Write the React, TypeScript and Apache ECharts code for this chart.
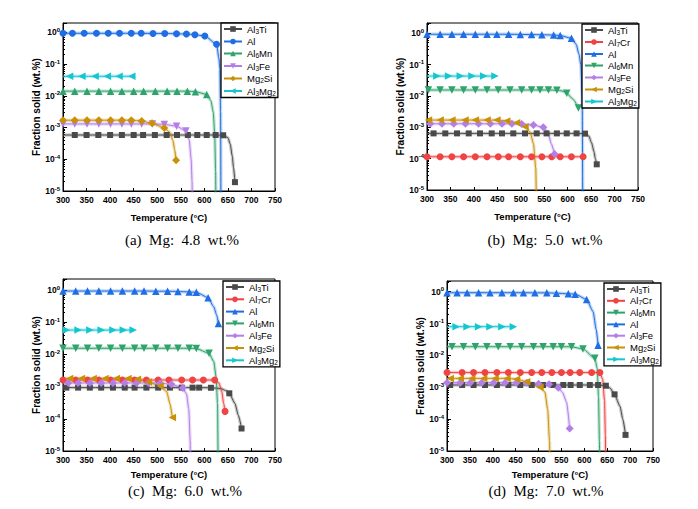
import React, { useEffect, useRef } from "react";
import * as echarts from "echarts";

type Pt = [number, number];

// ---------- (a) Mg: 4.8 wt.% ----------
const aAl3TiMarks: Pt[] = [[325,5.8e-4],[350,5.8e-4],[375,5.8e-4],[400,5.8e-4],[425,5.8e-4],[450,5.8e-4],[470,5.8e-4],[495,5.8e-4],[520,5.8e-4],[542,5.8e-4],[565,5.8e-4],[585,5.8e-4],[605,5.8e-4],[624,5.8e-4],[640,5.7e-4],[665,1.9e-5]];
const aAl3TiCurve: Pt[] = [[300,5.8e-4],[650,4.8e-4],[655,3.0e-4],[659,1.3e-4],[662,5.5e-5]];
const aAlMarks: Pt[] = [[300,0.93],[320,0.93],[345,0.93],[371,0.93],[396,0.93],[420,0.93],[445,0.93],[466,0.93],[491,0.92],[516,0.92],[541,0.9],[562,0.88],[580,0.84],[601,0.76],[626,0.42]];
const aAlCurve: Pt[] = [[631,0.15],[633,0.07],[634.5,0.003],[635.5,1e-7]];
const aAl6MnMarks: Pt[] = [[300,0.014],[325,0.014],[351,0.014],[376,0.014],[401,0.014],[425,0.014],[450,0.014],[471,0.014],[496,0.014],[521,0.014],[542,0.014],[564,0.014],[581,0.0135],[605,0.011]];
const aAl6MnCurve: Pt[] = [[614,0.007],[619,0.003],[622,0.0006],[624,0.00004],[625,1e-7]];
const aAl3FeMarks: Pt[] = [[300,0.0013],[325,0.0013],[351,0.0013],[376,0.0013],[401,0.0013],[425,0.0013],[445,0.0013],[467,0.0013],[490,0.0013],[515,0.00125],[541,0.0011],[561,0.00078]];
const aAl3FeCurve: Pt[] = [[568,0.0004],[572,0.0001],[574,0.00002],[575,1e-7]];
const aMg2SiMarks: Pt[] = [[300,0.0017],[325,0.0017],[351,0.0017],[376,0.0017],[401,0.0017],[425,0.0017],[445,0.0017],[467,0.0016],[489,0.00135],[515,0.00097],[540,9.3e-5]];
const aMg2SiCurve: Pt[] = [[527,0.0007],[533,0.0004],[537,0.0002]];
const aAl3Mg2Marks: Pt[] = [[314,0.041],[340,0.041],[368,0.041],[394,0.041],[419,0.041],[446,0.041]];
const aAl3Mg2Curve: Pt[] = [[300,0.041]];

// ---------- (b) Mg: 5.0 wt.% ----------
const bAl3TiMarks: Pt[] = [[314,6.4e-4],[339,6.4e-4],[364,6.4e-4],[389,6.4e-4],[413,6.4e-4],[438,6.4e-4],[460,6.4e-4],[484,6.4e-4],[509,6.4e-4],[534,6.4e-4],[555,6.4e-4],[577,6.4e-4],[598,6.4e-4],[619,6.4e-4],[637,6.3e-4],[662,6.6e-5]];
const bAl3TiCurve: Pt[] = [[300,6.4e-4],[645,5.3e-4],[651,3.2e-4],[656,1.7e-4],[659,1.0e-4]];
const bAl7CrMarks: Pt[] = [[300,1.15e-4],[328,1.15e-4],[353,1.15e-4],[378,1.15e-4],[403,1.15e-4],[428,1.15e-4],[452,1.15e-4],[474,1.15e-4],[499,1.15e-4],[523,1.15e-4],[545,1.15e-4],[566,1.15e-4],[584,1.15e-4],[608,1.15e-4],[633,1.15e-4]];
const bAl7CrCurve: Pt[] = [];
const bAlMarks: Pt[] = [[300,0.93],[328,0.93],[353,0.93],[378,0.93],[403,0.93],[428,0.93],[449,0.93],[474,0.93],[499,0.92],[523,0.91],[545,0.9],[570,0.88],[584,0.85],[608,0.69]];
const bAlCurve: Pt[] = [[618,0.45],[624,0.22],[628,0.1],[631,0.01],[632.5,1e-7]];
const bAl6MnMarks: Pt[] = [[303,0.0155],[328,0.0155],[353,0.0155],[378,0.0155],[403,0.0155],[428,0.0155],[452,0.0155],[477,0.0155],[502,0.0155],[523,0.0155],[541,0.0155],[559,0.0155],[577,0.0153],[598,0.0122],[623,0.0041]];
const bAl6MnCurve: Pt[] = [[300,0.0155],[588,0.0145],[611,0.008]];
const bAl3FeMarks: Pt[] = [[307,0.0013],[332,0.0013],[357,0.0013],[382,0.0013],[410,0.0013],[435,0.0013],[460,0.0013],[481,0.0013],[502,0.00128],[527,0.00118],[548,0.001],[572,1.4e-4]];
const bAl3FeCurve: Pt[] = [[300,0.0013],[558,0.0007],[565,0.0003]];
const bMg2SiMarks: Pt[] = [[303,0.0017],[328,0.0017],[353,0.0017],[381,0.0017],[403,0.0017],[428,0.0017],[449,0.0017],[470,0.0016],[491,0.0014],[509,0.00105]];
const bMg2SiCurve: Pt[] = [[300,0.0017],[520,0.0007],[527,0.0003],[532,0.00005],[534.5,1e-7]];
const bAl3Mg2Marks: Pt[] = [[321,0.043],[346,0.043],[371,0.043],[396,0.043],[421,0.043],[445,0.043]];
const bAl3Mg2Curve: Pt[] = [[300,0.043]];

// ---------- (c) Mg: 6.0 wt.% ----------
const cAl3TiMarks: Pt[] = [[307,9.3e-4],[332,9.3e-4],[357,9.3e-4],[381,9.3e-4],[406,9.3e-4],[431,9.3e-4],[452,9.3e-4],[477,9.3e-4],[502,9.3e-4],[527,9.3e-4],[552,9.3e-4],[575,9.3e-4],[589,9.3e-4],[614,9.2e-4],[653,6.2e-4],[679,5e-5]];
const cAl3TiCurve: Pt[] = [[300,9.3e-4],[635,8.7e-4],[645,7.6e-4],[665,3.0e-4],[672,1.3e-4]];
const cAl7CrMarks: Pt[] = [[300,0.0016],[327,0.0016],[352,0.0016],[376,0.0016],[401,0.0016],[426,0.0016],[452,0.0016],[477,0.0016],[502,0.0016],[525,0.0016],[552,0.0016],[575,0.0016],[598,0.0016],[622,0.0016],[644,1.7e-4]];
const cAl7CrCurve: Pt[] = [[631,0.0013],[637,0.0007],[641,0.0003]];
const cAlMarks: Pt[] = [[300,0.93],[327,0.93],[352,0.93],[376,0.93],[401,0.93],[426,0.93],[452,0.93],[472,0.93],[497,0.92],[522,0.92],[544,0.9],[568,0.87],[583,0.85],[608,0.58],[630,0.092]];
const cAlCurve: Pt[] = [[620,0.3],[626,0.17]];
const cAl6MnMarks: Pt[] = [[300,0.0155],[327,0.0155],[352,0.0155],[376,0.0155],[401,0.0155],[426,0.0155],[452,0.0155],[472,0.0155],[497,0.0155],[522,0.0155],[544,0.0155],[568,0.0155],[583,0.0152],[610,0.0108]];
const cAl6MnCurve: Pt[] = [[620,0.006],[625,0.002],[628,0.0003],[630,1e-7]];
const cAl3FeMarks: Pt[] = [[311,0.0013],[332,0.0013],[357,0.0013],[381,0.0013],[406,0.0013],[431,0.0013],[456,0.0013],[481,0.0013],[506,0.00128],[530,0.00118],[554,0.0009]];
const cAl3FeCurve: Pt[] = [[300,0.0013],[562,0.0006],[567,0.0002],[570,0.00002],[571,1e-7]];
const cMg2SiMarks: Pt[] = [[314,0.0018],[339,0.0018],[364,0.0018],[389,0.0018],[413,0.0018],[438,0.0018],[458,0.0017],[481,0.0014],[506,0.00104],[532,1.1e-4]];
const cMg2SiCurve: Pt[] = [[300,0.0018],[520,0.0007],[527,0.0003]];
const cAl3Mg2Marks: Pt[] = [[307,0.057],[332,0.057],[357,0.057],[381,0.057],[406,0.057],[428,0.057],[449,0.057]];
const cAl3Mg2Curve: Pt[] = [[300,0.057]];

// ---------- (d) Mg: 7.0 wt.% ----------
const dAl3TiMarks: Pt[] = [[307,0.00118],[333,0.00118],[358,0.00118],[383,0.00118],[409,0.00118],[434,0.00118],[460,0.00118],[485,0.00118],[510,0.00118],[532,0.00118],[554,0.00118],[570,0.00118],[590,0.00118],[612,0.00118],[630,0.00118],[647,0.00112],[666,6e-4],[690,3.2e-5]];
const dAl3TiCurve: Pt[] = [[300,0.00118],[656,0.00095],[678,2.5e-4],[684,1e-4]];
const dAl7CrMarks: Pt[] = [[300,0.0029],[333,0.0029],[358,0.0029],[383,0.0029],[409,0.0029],[434,0.0029],[460,0.0029],[485,0.0029],[507,0.0029],[529,0.0029],[550,0.0029],[569,0.0029],[590,0.0029],[616,0.0029],[634,0.0029]];
const dAl7CrCurve: Pt[] = [[640,0.0018],[644,0.0004],[646,0.00003],[647,1e-7]];
const dAl6MnMarks: Pt[] = [[311,0.0188],[336,0.0188],[362,0.0188],[387,0.0188],[412,0.0188],[438,0.0188],[463,0.0188],[489,0.0188],[510,0.0188],[532,0.0188],[550,0.0188],[572,0.0186],[597,0.016],[623,0.0081]];
const dAl6MnCurve: Pt[] = [[300,0.0188],[628,0.004],[631,0.0005],[633,0.00002],[634,1e-7]];
const dAlMarks: Pt[] = [[300,0.93],[322,0.93],[344,0.93],[369,0.93],[394,0.93],[420,0.93],[445,0.93],[467,0.93],[492,0.92],[518,0.92],[539,0.9],[565,0.86],[580,0.84],[605,0.57],[630,0.021]];
const dAlCurve: Pt[] = [[619,0.24],[626,0.065]];
const dAl3FeMarks: Pt[] = [[300,0.0014],[329,0.0014],[351,0.0014],[376,0.0014],[402,0.0014],[427,0.0014],[452,0.0014],[474,0.0014],[500,0.0013],[523,0.00124],[543,0.00097],[568,5.1e-5]];
const dAl3FeCurve: Pt[] = [[552,0.0007],[561,0.00035]];
const dMg2SiMarks: Pt[] = [[307,0.0019],[329,0.0019],[354,0.0019],[380,0.0019],[405,0.0019],[431,0.0019],[452,0.0018],[474,0.0015],[503,0.001]];
const dMg2SiCurve: Pt[] = [[300,0.0019],[514,0.0007],[520,0.0002],[524,0.00002],[526,1e-7]];
const dAl3Mg2Marks: Pt[] = [[320,0.08],[344,0.08],[369,0.08],[394,0.08],[420,0.08],[445,0.08]];
const dAl3Mg2Curve: Pt[] = [[300,0.08]];

const xTicks = { min: 300, max: 750, interval: 50 };
const captions = ["(a)  Mg:  4.8  wt.%", "(b)  Mg:  5.0  wt.%", "(c)  Mg:  6.0  wt.%", "(d)  Mg:  7.0  wt.%"];
const xName = "Temperature (°C)";
const yName = "Fraction solid (wt.%)";

const FONT = "'Liberation Sans', Arial, sans-serif";

const COLORS: Record<string, string> = {
  Al3Ti: "#4a4a4a",
  Al7Cr: "#f04343",
  Al: "#1f6ee3",
  Al6Mn: "#2fa36b",
  Al3Fe: "#b47ee8",
  Mg2Si: "#c99108",
  Al3Mg2: "#16c6cf",
};

const LABELS: Record<string, string> = {
  Al3Ti: "{n|Al}{s|3}{n|Ti}",
  Al7Cr: "{n|Al}{s|7}{n|Cr}",
  Al: "{n|Al}",
  Al6Mn: "{n|Al}{s|6}{n|Mn}",
  Al3Fe: "{n|Al}{s|3}{n|Fe}",
  Mg2Si: "{n|Mg}{s|2}{n|Si}",
  Al3Mg2: "{n|Al}{s|3}{n|Mg}{s|2}",
};

const SYM: Record<string, { s: string; r: number; z: number }> = {
  sq: { s: "rect", r: 0, z: 6 },
  ci: { s: "circle", r: 0, z: 7 },
  up: { s: "triangle", r: 0, z: 7.5 },
  dn: { s: "triangle", r: 180, z: 7.5 },
  di: { s: "diamond", r: 0, z: 8 },
  lt: { s: "triangle", r: 90, z: 7.5 },
  rt: { s: "triangle", r: -90, z: 7.5 },
};

type Phase = { phase: string; marks: Pt[]; curve: Pt[]; sym: string };
type Panel = {
  id: string;
  l: number; t: number; w: number; h: number;
  ymax: number;
  legL: number; legT: number; legGap: number;
  capX: number; capY: number;
  xGap: number; yGap: number;
  phases: Phase[];
};

const PANELS: Panel[] = [
  {
    id: "a", l: 63, t: 23, w: 212, h: 168, ymax: 1.96, legL: 221, legT: 23, legGap: 2.0, capX: 182, capY: 240, xGap: 21, yGap: 22,
    phases: [
      { phase: "Al3Ti", marks: aAl3TiMarks, curve: aAl3TiCurve, sym: "sq" },
      { phase: "Al", marks: aAlMarks, curve: aAlCurve, sym: "ci" },
      { phase: "Al6Mn", marks: aAl6MnMarks, curve: aAl6MnCurve, sym: "up" },
      { phase: "Al3Fe", marks: aAl3FeMarks, curve: aAl3FeCurve, sym: "dn" },
      { phase: "Mg2Si", marks: aMg2SiMarks, curve: aMg2SiCurve, sym: "di" },
      { phase: "Al3Mg2", marks: aAl3Mg2Marks, curve: aAl3Mg2Curve, sym: "lt" },
    ],
  },
  {
    id: "b", l: 427, t: 23, w: 211, h: 167, ymax: 2.13, legL: 582, legT: 24, legGap: 1.5, capX: 545, capY: 240, xGap: 21, yGap: 22,
    phases: [
      { phase: "Al3Ti", marks: bAl3TiMarks, curve: bAl3TiCurve, sym: "sq" },
      { phase: "Al7Cr", marks: bAl7CrMarks, curve: bAl7CrCurve, sym: "ci" },
      { phase: "Al", marks: bAlMarks, curve: bAlCurve, sym: "up" },
      { phase: "Al6Mn", marks: bAl6MnMarks, curve: bAl6MnCurve, sym: "dn" },
      { phase: "Al3Fe", marks: bAl3FeMarks, curve: bAl3FeCurve, sym: "di" },
      { phase: "Mg2Si", marks: bMg2SiMarks, curve: bMg2SiCurve, sym: "lt" },
      { phase: "Al3Mg2", marks: bAl3Mg2Marks, curve: bAl3Mg2Curve, sym: "rt" },
    ],
  },
  {
    id: "c", l: 63, t: 279, w: 212, h: 172, ymax: 2.2, legL: 223, legT: 281, legGap: 1.8, capX: 185, capY: 491, xGap: 18, yGap: 19,
    phases: [
      { phase: "Al3Ti", marks: cAl3TiMarks, curve: cAl3TiCurve, sym: "sq" },
      { phase: "Al7Cr", marks: cAl7CrMarks, curve: cAl7CrCurve, sym: "ci" },
      { phase: "Al", marks: cAlMarks, curve: cAlCurve, sym: "up" },
      { phase: "Al6Mn", marks: cAl6MnMarks, curve: cAl6MnCurve, sym: "dn" },
      { phase: "Al3Fe", marks: cAl3FeMarks, curve: cAl3FeCurve, sym: "di" },
      { phase: "Mg2Si", marks: cMg2SiMarks, curve: cMg2SiCurve, sym: "lt" },
      { phase: "Al3Mg2", marks: cAl3Mg2Marks, curve: cAl3Mg2Curve, sym: "rt" },
    ],
  },
  {
    id: "d", l: 447, t: 281, w: 206, h: 170, ymax: 2.17, legL: 604, legT: 283, legGap: 1.3, capX: 546, capY: 491, xGap: 18, yGap: 20,
    phases: [
      { phase: "Al3Ti", marks: dAl3TiMarks, curve: dAl3TiCurve, sym: "sq" },
      { phase: "Al7Cr", marks: dAl7CrMarks, curve: dAl7CrCurve, sym: "ci" },
      { phase: "Al6Mn", marks: dAl6MnMarks, curve: dAl6MnCurve, sym: "dn" },
      { phase: "Al", marks: dAlMarks, curve: dAlCurve, sym: "up" },
      { phase: "Al3Fe", marks: dAl3FeMarks, curve: dAl3FeCurve, sym: "di" },
      { phase: "Mg2Si", marks: dMg2SiMarks, curve: dMg2SiCurve, sym: "lt" },
      { phase: "Al3Mg2", marks: dAl3Mg2Marks, curve: dAl3Mg2Curve, sym: "rt" },
    ],
  },
];

function buildOption() {
  const grid = PANELS.map((p) => ({
    left: p.l, top: p.t, width: p.w, height: p.h,
    show: true, borderColor: "#000", borderWidth: 1, backgroundColor: "transparent", containLabel: false,
  }));
  const xAxis = PANELS.map((p, i) => ({
    type: "value", gridIndex: i, min: xTicks.min, max: xTicks.max, interval: xTicks.interval,
    name: xName, nameLocation: "middle", nameGap: p.xGap,
    nameTextStyle: { fontFamily: FONT, fontWeight: "bold", fontSize: 9.5, color: "#000" },
    axisLine: { show: true, onZero: false, lineStyle: { color: "#000", width: 1 } },
    axisTick: { show: true, inside: true, length: 3, lineStyle: { color: "#000" } },
    axisLabel: { fontFamily: FONT, fontWeight: "bold", fontSize: 8.5, color: "#000", margin: 4 },
    splitLine: { show: false },
  }));
  const yAxis = PANELS.map((p, i) => ({
    type: "log", logBase: 10, gridIndex: i, min: 1e-5, max: p.ymax,
    name: yName, nameLocation: "middle", nameGap: p.yGap,
    nameTextStyle: { fontFamily: FONT, fontWeight: "bold", fontSize: 10, color: "#000" },
    axisLine: { show: true, onZero: false, lineStyle: { color: "#000", width: 1 } },
    axisTick: { show: true, inside: true, length: 4, lineStyle: { color: "#000" } },
    minorTick: { show: true, splitNumber: 9, length: 2, lineStyle: { color: "#000" } },
    axisLabel: {
      margin: 3,
      formatter: (v: number) => {
        const e = Math.log10(v);
        const r = Math.round(e);
        if (Math.abs(e - r) > 1e-6) return "";
        return `{n|10}{s|${r}}`;
      },
      rich: {
        n: { fontFamily: FONT, fontWeight: "bold", fontSize: 8.5, lineHeight: 11, color: "#000" },
        s: { fontFamily: FONT, fontWeight: "bold", fontSize: 6, lineHeight: 6, verticalAlign: "top", color: "#000" },
      },
    },
    splitLine: { show: false },
  }));

  const series: any[] = [];
  PANELS.forEach((p, i) => {
    p.phases.forEach((ph) => {
      const pts = [
        ...ph.marks.map((v) => ({ value: v })),
        ...ph.curve.map((v) => ({ value: v, symbol: "none" })),
      ].sort((u, v) => u.value[0] - v.value[0]);
      const c = COLORS[ph.phase];
      const sy = SYM[ph.sym];
      series.push({
        type: "line", name: `halo|${p.id}|${ph.phase}`, xAxisIndex: i, yAxisIndex: i,
        data: pts.map((d) => d.value), symbol: "none", smooth: 0.2, smoothMonotone: "x",
        lineStyle: { color: c, width: 3.5, opacity: 0.28 }, silent: true, z: 1,
      });
      series.push({
        type: "line", name: `${p.id}|${ph.phase}`, xAxisIndex: i, yAxisIndex: i,
        data: pts, symbol: sy.s, symbolRotate: sy.r, symbolSize: sy.z, showAllSymbol: true,
        smooth: 0.2, smoothMonotone: "x",
        itemStyle: { color: c }, lineStyle: { color: c, width: 1 }, z: 3,
      });
    });
  });

  const legend = PANELS.map((p) => ({
    orient: "vertical", left: p.legL, top: p.legT,
    data: p.phases.map((ph) => `${p.id}|${ph.phase}`),
    formatter: (name: string) => LABELS[name.split("|")[1]],
    itemWidth: 18, itemHeight: 7, itemGap: p.legGap, padding: [1, 2, 1, 2],
    borderColor: "#000", borderWidth: 1.3, backgroundColor: "#fff", selectedMode: false,
    textStyle: {
      fontFamily: FONT, fontSize: 9.5, color: "#000",
      rich: {
        n: { fontFamily: FONT, fontSize: 9.5, lineHeight: 11, color: "#000" },
        s: { fontFamily: FONT, fontSize: 6.5, lineHeight: 7, verticalAlign: "bottom", color: "#000" },
      },
    },
    z: 10,
  }));

  const graphic = PANELS.map((p, i) => ({
    type: "text", x: p.capX, y: p.capY, z: 20,
    style: {
      text: captions[i], font: "15px 'Liberation Serif', 'Times New Roman', serif", fill: "#000",
      align: "center", verticalAlign: "middle", textAlign: "center", textVerticalAlign: "middle",
    },
  }));

  return { animation: false, backgroundColor: "#fff", grid, xAxis, yAxis, series, legend, graphic };
}

export default function App() {
  const ref = useRef<HTMLDivElement>(null);
  useEffect(() => {
    if (!ref.current) return;
    const chart = echarts.init(ref.current, undefined, { renderer: "svg" });
    chart.setOption(buildOption() as any);
    return () => chart.dispose();
  }, []);
  return <div ref={ref} style={{ position: "fixed", left: 0, top: 0, width: 698, height: 509 }} />;
}
